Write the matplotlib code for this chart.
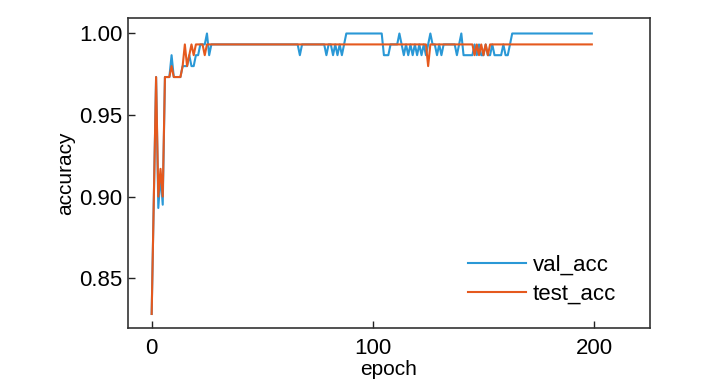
import matplotlib
matplotlib.use("Agg")
import matplotlib.pyplot as plt
from matplotlib import font_manager

A, B, C, D, E = 1.0, 0.9933, 0.9867, 0.98, 0.9733

val_acc = [
    0.828, 0.90, E, 0.893, 0.913, 0.895, E, E, E, C,          # 0-9
    E, E, E, E, D, D, D, C, D, D,                              # 10-19
    C, C, B, B, B, A, C, B, B, B,                              # 20-29
    B, B, B, B, B, B, B, B, B, B,                              # 30-39
    B, B, B, B, B, B, B, B, B, B,                              # 40-49
    B, B, B, B, B, B, B, B, B, B,                              # 50-59
    B, B, B, B, B, B, B, C, B, B,                              # 60-69
    B, B, B, B, B, B, B, B, B, C,                              # 70-79
    B, B, C, B, C, B, C, B, A, A,                              # 80-89
    A, A, A, A, A, A, A, A, A, A,                              # 90-99
    A, A, A, A, A, C, C, C, B, B,                              # 100-109
    B, B, A, B, C, B, C, B, C, B,                              # 110-119
    C, B, C, B, C, B, A, B, B, C,                              # 120-129
    B, C, B, B, B, B, B, B, C, B,                              # 130-139
    A, C, C, C, C, C, B, C, B, C,                              # 140-149
    C, B, C, C, B, C, C, C, C, B,                              # 150-159
    C, C, B, A, A, A, A, A, A, A,                              # 160-169
    A, A, A, A, A, A, A, A, A, A,                              # 170-179
    A, A, A, A, A, A, A, A, A, A,                              # 180-189
    A, A, A, A, A, A, A, A, A, A,                              # 190-199
]

test_acc = [
    0.828, 0.90, E, 0.90, 0.917, 0.90, E, E, E, D,            # 0-9
    E, E, E, E, D, B, D, C, B, C,                              # 10-19
    B, B, B, B, C, B, B, B, B, B,                              # 20-29
    B, B, B, B, B, B, B, B, B, B,                              # 30-39
    B, B, B, B, B, B, B, B, B, B,                              # 40-49
    B, B, B, B, B, B, B, B, B, B,                              # 50-59
    B, B, B, B, B, B, B, B, B, B,                              # 60-69
    B, B, B, B, B, B, B, B, B, B,                              # 70-79
    B, B, B, B, B, B, B, B, B, B,                              # 80-89
    B, B, B, B, B, B, B, B, B, B,                              # 90-99
    B, B, B, B, B, B, B, B, B, B,                              # 100-109
    B, B, B, B, B, B, B, B, B, B,                              # 110-119
    B, B, B, B, B, D, B, B, B, B,                              # 120-129
    B, B, B, B, B, B, B, B, B, B,                              # 130-139
    B, B, B, B, B, B, C, B, C, B,                              # 140-149
    C, B, C, B, B, B, B, B, B, B,                              # 150-159
    B, B, B, B, B, B, B, B, B, B,                              # 160-169
    B, B, B, B, B, B, B, B, B, B,                              # 170-179
    B, B, B, B, B, B, B, B, B, B,                              # 180-189
    B, B, B, B, B, B, B, B, B, B,                              # 190-199
]

epochs = list(range(len(val_acc)))
series_labels = ["val_acc", "test_acc"]
x_ticks = [0, 100, 200]
y_ticks = [0.85, 0.90, 0.95, 1.00]

names = {f.name for f in font_manager.fontManager.ttflist}
fam = "Liberation Sans Narrow" if "Liberation Sans Narrow" in names else "Liberation Sans"
plt.rcParams["font.family"] = [fam, "DejaVu Sans"]

fig = plt.figure(figsize=(7.28, 3.90), dpi=100)
ax = fig.add_axes([128/728, 1-328/390, (650-128)/728, (328-18)/390])

ax.plot(epochs, val_acc, color="#2a98d6", lw=1.5, label=series_labels[0])
ax.plot(epochs, test_acc, color="#e5591e", lw=1.5, label=series_labels[1])

ax.set_xlim(-10.7, 225.3)
ax.set_ylim(0.8194, 1.0095)
ax.set_xticks(x_ticks)
ax.set_yticks(y_ticks)
ax.set_yticklabels([f"{v:.2f}" for v in y_ticks])
ax.tick_params(direction="in", length=5, width=1, labelsize=16, colors="#222222")
ax.tick_params(axis="both", labelcolor="black")
ax.tick_params(axis="x", pad=7)
ax.tick_params(axis="y", pad=4)
for s in ax.spines.values():
    s.set_linewidth(1.2)
    s.set_color("#333333")

ax.set_xlabel("epoch", fontsize=15, labelpad=1)
ax.set_ylabel("accuracy", fontsize=15, labelpad=3)

leg = ax.legend(loc="lower right", bbox_to_anchor=(0.952, 0.047), frameon=False,
                fontsize=16, handlelength=2.6, borderaxespad=0, labelspacing=0.35,
                handletextpad=0.3)

fig.savefig("out.png", dpi=100)
